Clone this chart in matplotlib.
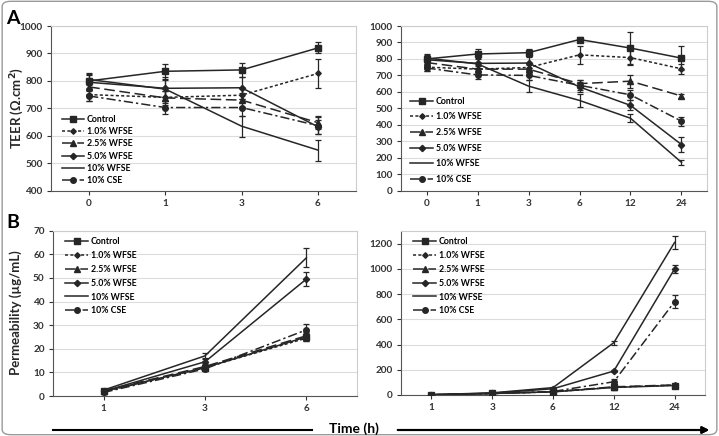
import numpy as np
import matplotlib
matplotlib.use('Agg')
import matplotlib.pyplot as plt
from matplotlib.lines import Line2D
from matplotlib.patches import FancyBboxPatch

plt.rcParams['font.family'] = ['Lato', 'DejaVu Sans']
plt.rcParams['font.weight'] = 'bold'

labels = ['Control', '1.0% WFSE', '2.5% WFSE', '5.0% WFSE', '10% WFSE', '10% CSE']

# TEER, short time course
teer_t1 = ['0', '1', '3', '6']
teer1 = [[800, 835, 840, 920],
         [750, 740, 748, 827],
         [778, 738, 730, 648],
         [795, 773, 775, 633],
         [805, 770, 635, 548],
         [745, 703, 703, 637]]
teer1_err = [[30, 28, 25, 20],
             [25, 22, 25, 52],
             [25, 25, 25, 25],
             [25, 30, 40, 25],
             [20, 45, 38, 38],
             [20, 25, 30, 30]]

# TEER, long time course
teer_t2 = ['0', '1', '3', '6', '12', '24']
teer2 = [[800, 830, 838, 918, 866, 805],
         [750, 738, 748, 825, 808, 740],
         [778, 738, 738, 650, 665, 575],
         [795, 773, 775, 630, 518, 280],
         [805, 770, 635, 548, 440, 172],
         [745, 703, 700, 640, 582, 422]]
teer2_err = [[30, 30, 25, 15, 95, 72],
             [25, 20, 20, 55, 45, 30],
             [25, 25, 25, 25, 40, 15],
             [25, 30, 40, 30, 30, 45],
             [20, 45, 38, 38, 25, 15],
             [20, 25, 30, 30, 30, 28]]

# permeability, short
perm_t1 = ['1', '3', '6']
perm1 = [[2.0, 12.0, 25.0],
         [1.8, 12.0, 24.5],
         [2.2, 12.5, 25.5],
         [2.0, 14.5, 49.5],
         [2.5, 17.0, 58.5],
         [1.5, 11.5, 28.0]]
perm1_err = [[0.5, 0.8, 1.5],
             [0.5, 0.8, 1.2],
             [0.5, 0.8, 1.5],
             [0.5, 1.0, 2.8],
             [0.5, 1.0, 4.0],
             [0.5, 1.0, 2.5]]

# permeability, long
perm_t2 = ['1', '3', '6', '12', '24']
perm2 = [[2.0, 12.0, 25.0, 60, 75],
         [1.8, 12.0, 24.5, 62, 78],
         [2.2, 12.5, 25.5, 65, 80],
         [2.0, 14.5, 49.5, 190, 1000],
         [2.5, 17.0, 58.5, 415, 1210],
         [1.5, 11.5, 28.0, 105, 740]]
perm2_err = [[0.5, 1, 2, 8, 8],
             [0.5, 1, 2, 8, 8],
             [0.5, 1, 2, 8, 8],
             [0.5, 1, 3, 10, 30],
             [0.5, 1, 4, 15, 50],
             [0.5, 1, 3, 20, 50]]

styles = [dict(ls='-', marker='s', ms=4),
          dict(ls=(0, (2, 1.5)), marker='D', ms=2.8),
          dict(ls=(0, (7, 3)), marker='^', ms=4),
          dict(ls='-', marker='D', ms=3.2),
          dict(ls='-', marker='', ms=0),
          dict(ls=(0, (6, 2, 1.5, 2)), marker='o', ms=4)]
col = '#262626'

W, H = 719, 436
fig = plt.figure(figsize=(W / 100, H / 100), dpi=100)


def box(x0, x1, ytop, ybot):
    return [x0 / W, 1 - ybot / H, (x1 - x0) / W, (ybot - ytop) / H]


def panel(rect, cats, data, err, ylim, yticks, leg_anchor, spacing):
    ax = fig.add_axes(rect)
    x = np.arange(len(cats))
    for i in range(len(data)):
        st = styles[i]
        ax.errorbar(x, data[i], yerr=err[i], color=col, lw=1.1, ls=st['ls'],
                    marker=st['marker'] or None, ms=st['ms'], ecolor=col,
                    elinewidth=0.9, capsize=2.2, capthick=0.9, zorder=3)
    ax.set_xlim(-0.5, len(cats) - 0.5)
    ax.set_ylim(*ylim)
    ax.set_xticks(x)
    ax.set_xticklabels(cats)
    ax.set_yticks(yticks)
    ax.tick_params(labelsize=7.2, colors='#333333', length=3, width=0.8, pad=3)
    ax.yaxis.grid(True, color='#dcdcdc', lw=0.8)
    ax.set_axisbelow(True)
    for s in ['left', 'bottom']:
        ax.spines[s].set_color('#555555')
    for s in ['top', 'right']:
        ax.spines[s].set_color('#cccccc')
    handles = [Line2D([], [], color=col, lw=1.1, ls=st['ls'],
                      marker=st['marker'] or None, ms=st['ms']) for st in styles]
    ax.legend(handles, labels, loc='upper left', bbox_to_anchor=leg_anchor,
              frameon=False, fontsize=6.3, handlelength=2.6, handletextpad=0.3,
              labelspacing=spacing, borderaxespad=0, borderpad=0)
    return ax


panel(box(51, 356, 26, 190.7), teer_t1, teer1, teer1_err, (400, 1000),
      range(400, 1001, 100), (0.035, 0.46), 0.37)
panel(box(401, 707, 26, 190.7), teer_t2, teer2, teer2_err, (0, 1000),
      range(0, 1001, 100), (0.03, 0.57), 0.76)
panel(box(53, 357, 230.7, 396), perm_t1, perm1, perm1_err, (0, 70),
      range(0, 71, 10), (0.04, 0.96), 0.55)
panel(box(401, 705, 230.7, 395), perm_t2, perm2, perm2_err, (0, 1303),
      range(0, 1201, 200), (0.04, 0.96), 0.55)

fig.text(13 / W, 1 - 18 / H, 'A', fontsize=14, weight='bold', ha='center', va='center')
fig.text(13 / W, 1 - 222 / H, 'B', fontsize=14, weight='bold', ha='center', va='center')
fig.text(17 / W, 1 - 108 / H, 'TEER (\u03a9.cm$^{\\mathbf{2}}$)', fontsize=9.5, weight='bold',
         rotation=90, ha='center', va='center', color='#262626')
fig.text(16 / W, 1 - 313 / H, 'Permeability (\u00b5g/mL)', fontsize=9.5, weight='bold',
         rotation=90, ha='center', va='center', color='#262626')

# time axis arrow
fig.add_artist(Line2D([53 / W, 312 / W], [1 - 430 / H, 1 - 430 / H], color='black', lw=1.5))
fig.text(354 / W, 1 - 429 / H, 'Time (h)', fontsize=10, weight='bold', ha='center', va='center')
fig.add_artist(plt.annotate('', xy=(712 / W, 1 - 430 / H), xytext=(395 / W, 1 - 430 / H),
                            xycoords='figure fraction', textcoords='figure fraction',
                            arrowprops=dict(arrowstyle='-|>', color='black', lw=1.5,
                                            mutation_scale=10)))

fig.add_artist(FancyBboxPatch((0.003, 0.003), 0.994, 0.994,
                              boxstyle='round,pad=0,rounding_size=0.012',
                              transform=fig.transFigure, fill=False,
                              ec='#9a9a9a', lw=1))

fig.savefig('out.png', dpi=100)
